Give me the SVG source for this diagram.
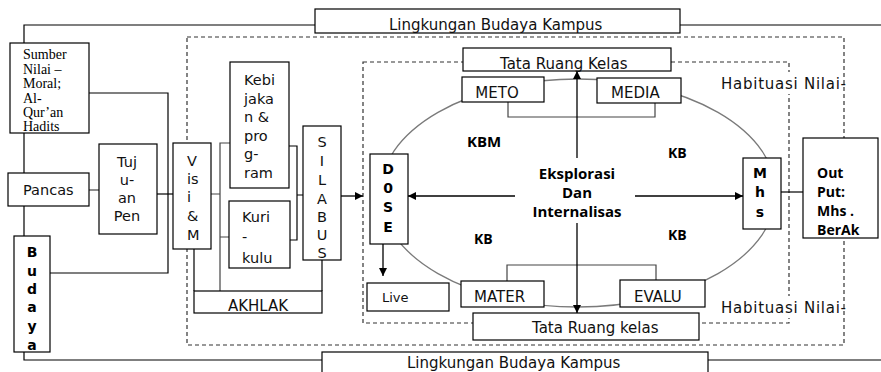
<svg xmlns="http://www.w3.org/2000/svg" width="881" height="372" viewBox="0 0 881 372">
<defs>
<marker id="ah" viewBox="0 0 10 10" refX="10" refY="5" markerWidth="9" markerHeight="8" orient="auto" markerUnits="userSpaceOnUse"><path d="M0,0 L10,5 L0,10 z" fill="#000"/></marker>
<style>
.box{fill:#fff;stroke:#000;stroke-width:1.2}
.ln{fill:none;stroke:#000;stroke-width:1.2}
.gl{fill:none;stroke:#444;stroke-width:1.2}
.dash{fill:none;stroke:#333;stroke-width:1.2;stroke-dasharray:4 3}
.ell{fill:none;stroke:#7a7a7a;stroke-width:1.3}
.arr{fill:none;stroke:#000;stroke-width:1.3;marker-end:url(#ah)}
.s{font-family:"DejaVu Sans",Verdana,sans-serif;font-size:14.5px;fill:#111}
.s15{font-family:"DejaVu Sans",Verdana,sans-serif;font-size:15px;fill:#111}
.sb{font-family:"DejaVu Sans",Verdana,sans-serif;font-size:14px;font-weight:bold;fill:#000}
.cb{font-family:"Open Sans",sans-serif;font-size:15px;font-weight:bold;fill:#000}
.cb14{font-family:"Open Sans",sans-serif;font-size:14px;font-weight:bold;fill:#000}
.serif{font-family:"Liberation Serif","Times New Roman",serif;font-size:14px;fill:#000}
.m{text-anchor:middle}
</style>
</defs>

<!-- frames and connectors -->
<g id="connectors">
<path class="ln" d="M881,25 H24 V360 H881"/>
<rect class="dash" x="187" y="37" width="657" height="308"/>
<rect class="dash" x="363" y="62" width="426" height="261"/>
<ellipse class="ell" cx="578" cy="193" rx="198" ry="114"/>
<path class="ln" d="M89,93 H168 V273 H50"/>
<path class="gl" d="M89,190 H99"/>
<path class="ln" d="M157,194 H173"/>
<path class="gl" d="M211,194 H220 M230,143 H220 V291 M229,237 H220"/>
<path class="ln" d="M289,146 H297 V240 H290 M297,195 H304"/>
<path class="ln" d="M194,249 V291 M322,260 V291"/>
<line class="arr" x1="341" y1="196" x2="363" y2="196"/>
<path class="gl" d="M508,102 V117 H655 V103"/>
<path class="gl" d="M507,281 V265 H656 V280"/>
<line class="arr" x1="515" y1="196" x2="408" y2="196"/>
<line class="arr" x1="635" y1="196" x2="743" y2="196"/>
<line class="arr" x1="577" y1="158" x2="577" y2="71"/>
<line class="arr" x1="577" y1="223" x2="577" y2="313"/>
<line class="arr" x1="383" y1="244" x2="383" y2="276"/>
<path class="ln" d="M781,192 H803"/>
</g>

<g id="lingkungan-top"><rect class="box" x="315" y="9" width="365" height="24"/><text class="s15" x="389" y="30">Lingkungan Budaya Kampus</text></g>
<g id="lingkungan-bottom"><rect class="box" x="322" y="352" width="386" height="30"/><text class="s15" x="407" y="368">Lingkungan Budaya Kampus</text></g>

<g id="sumber"><rect class="box" x="10" y="43" width="79" height="90"/>
<text class="serif"><tspan x="23" y="59">Sumber</tspan><tspan x="23" y="73.5">Nilai –</tspan><tspan x="23" y="88">Moral;</tspan><tspan x="23" y="102.5">Al-</tspan><tspan x="23" y="117">Qur’an</tspan><tspan x="23" y="131">Hadits</tspan></text></g>

<g id="pancas"><rect class="box" x="8" y="173" width="81" height="33"/><text class="s" x="23" y="195">Pancas</text></g>

<g id="budaya"><rect class="box" x="14" y="236" width="36" height="116"/>
<text class="sb m"><tspan x="32" y="257">B</tspan><tspan x="32" y="276">u</tspan><tspan x="32" y="294">d</tspan><tspan x="32" y="312">a</tspan><tspan x="32" y="331">y</tspan><tspan x="32" y="350">a</tspan></text></g>

<g id="tujuan"><rect class="box" x="99" y="144" width="58" height="90"/>
<text class="s m"><tspan x="127" y="167">Tuj</tspan><tspan x="127" y="185">u-</tspan><tspan x="127" y="203">an</tspan><tspan x="127" y="221">Pen</tspan></text></g>

<g id="visi"><rect class="box" x="173" y="143" width="38" height="106"/>
<text class="s"><tspan x="187" y="166">V</tspan><tspan x="187" y="184">is</tspan><tspan x="187" y="202">i</tspan><tspan x="187" y="221">&amp;</tspan><tspan x="187" y="240">M</tspan></text></g>

<g id="kebijakan"><rect class="box" x="230" y="62" width="59" height="126"/>
<text class="s"><tspan x="244" y="85">Kebi</tspan><tspan x="244" y="104">jaka</tspan><tspan x="244" y="122">n &amp;</tspan><tspan x="244" y="141">pro</tspan><tspan x="244" y="159">g-</tspan><tspan x="244" y="178">ram</tspan></text></g>

<g id="kurikulum"><rect class="box" x="229" y="201" width="61" height="67"/>
<text class="s"><tspan x="242" y="222">Kuri</tspan><tspan x="242" y="242">-</tspan><tspan x="242" y="263">kulu</tspan></text></g>

<g id="silabus"><rect class="box" x="303" y="126" width="38" height="134"/>
<text class="s m"><tspan x="322" y="147">S</tspan><tspan x="322" y="166">I</tspan><tspan x="322" y="185">L</tspan><tspan x="322" y="204">A</tspan><tspan x="322" y="222">B</tspan><tspan x="322" y="240">U</tspan><tspan x="322" y="258">S</tspan></text></g>

<g id="akhlak"><rect class="box" x="194" y="291" width="128" height="22"/><text class="s15 m" x="258" y="311">AKHLAK</text></g>

<g id="dosen"><rect class="box" x="370" y="154" width="38" height="90"/>
<text class="sb m"><tspan x="388" y="174">D</tspan><tspan x="388" y="193">0</tspan><tspan x="388" y="212">S</tspan><tspan x="388" y="232">E</tspan></text></g>

<g id="live"><rect class="box" x="367" y="283" width="82" height="28"/><text class="s" x="382" y="302" style="font-size:13px">Live</text></g>

<g id="tata-top"><rect class="box" x="463" y="48" width="208" height="23"/><text class="s15" x="500" y="69">Tata Ruang Kelas</text></g>
<g id="tata-bottom"><rect class="box" x="473" y="313" width="226" height="27"/><text class="s15" x="532" y="333">Tata Ruang kelas</text></g>

<g id="meto"><rect class="box" x="462" y="77" width="82" height="25"/><text class="s15 m" x="497" y="98">METO</text></g>
<g id="media"><rect class="box" x="597" y="78" width="84" height="25"/><text class="s15" x="611" y="98">MEDIA</text></g>
<g id="mater"><rect class="box" x="461" y="281" width="83" height="26"/><text class="s15" x="474" y="302">MATER</text></g>
<g id="evalu"><rect class="box" x="620" y="280" width="85" height="27"/><text class="s15" x="634" y="302">EVALU</text></g>

<g id="labels">
<text class="cb" x="467" y="147">KBM</text>
<text class="cb14" x="668" y="158">KB</text>
<text class="cb14" x="474" y="244">KB</text>
<text class="cb14" x="668" y="240">KB</text>
<text class="cb m"><tspan x="577" y="179">Eksplorasi</tspan><tspan x="577" y="198">Dan</tspan><tspan x="577" y="217">Internalisas</tspan></text>
</g>

<g id="habituasi-top"><rect x="718" y="72" width="124" height="22" fill="#fff"/><text class="s15" x="721" y="89" textLength="125" lengthAdjust="spacing">Habituasi Nilai-</text></g>
<g id="habituasi-bottom"><rect x="718" y="296" width="124" height="22" fill="#fff"/><text class="s15" x="721" y="313" textLength="125" lengthAdjust="spacing">Habituasi Nilai-</text></g>

<g id="mhs"><rect class="box" x="743" y="158" width="38" height="71"/>
<text class="sb m"><tspan x="760" y="178">M</tspan><tspan x="760" y="197">h</tspan><tspan x="760" y="217">s</tspan></text></g>

<g id="output"><rect class="box" x="803" y="138" width="75" height="100"/>
<text class="cb14"><tspan x="817" y="178">Out</tspan><tspan x="817" y="197">Put:</tspan><tspan x="817" y="216">Mhs .</tspan><tspan x="817" y="235">BerAk</tspan></text></g>
</svg>
